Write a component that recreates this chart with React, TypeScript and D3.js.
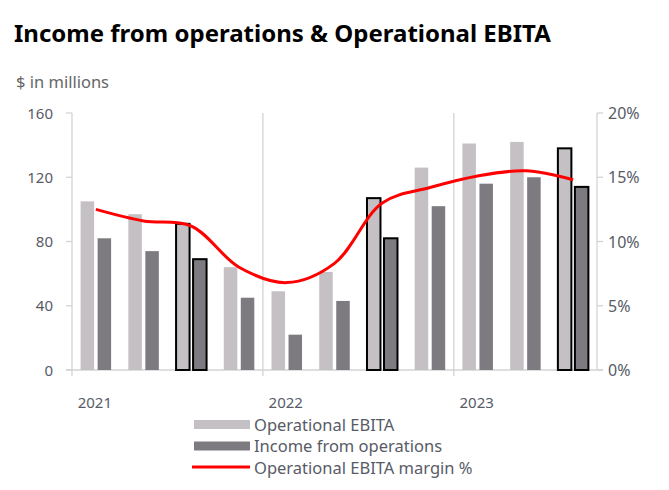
import { useEffect, useRef } from 'react';
import * as d3 from 'd3';

const quarters = ['Q1 21', 'Q2 21', 'Q3 21', 'Q4 21', 'Q1 22', 'Q2 22', 'Q3 22', 'Q4 22', 'Q1 23', 'Q2 23', 'Q3 23'];
const opEbita = [105, 97, 91, 64, 49, 61, 107, 126, 141, 142, 138];
const incomeOps = [82, 74, 69, 45, 22, 43, 82, 102, 116, 120, 114];
const marginPct = [12.5, 11.6, 11.2, 8.0, 6.8, 8.3, 13.0, 14.2, 15.1, 15.5, 14.8];
const highlighted = [2, 6, 10];
const yearLabels = [
  { label: '2021', at: 0 },
  { label: '2022', at: 4 },
  { label: '2023', at: 8 },
];
const leftTicks = [0, 40, 80, 120, 160];
const rightTicks = [0, 5, 10, 15, 20];

const W = 669;
const H = 490;
const FONT = '"Noto Sans", "Open Sans", sans-serif';
const TEXT = '#575b66';
const AXIS = '#d2d4d4';
const LIGHT = '#c4c0c4';
const DARK = '#7e7b80';

export default function App() {
  const svgRef = useRef<SVGSVGElement>(null);

  useEffect(() => {
    document.body.style.margin = '0';
    if (!svgRef.current) return;
    const svg = d3.select(svgRef.current);
    svg.selectAll('*').remove();

    const left = 72;
    const right = 597;
    const top = 113;
    const bottom = 370;

    const x = d3.scaleBand<string>().domain(quarters).range([left, right]).padding(0);
    const y = d3.scaleLinear().domain([0, 160]).range([bottom, top]);
    const yR = d3.scaleLinear().domain([0, 20]).range([bottom, top]);
    const bw = 13.5;
    const gap = 3.5;

    // title
    svg.append('text')
      .attr('x', 14).attr('y', 42)
      .attr('font-family', FONT).attr('font-weight', 'bold').attr('font-size', 24)
      .attr('fill', '#000')
      .text('Income from operations & Operational EBITA');

    svg.append('text')
      .attr('x', 16).attr('y', 88)
      .attr('font-family', FONT).attr('font-size', 16.5)
      .attr('fill', '#666')
      .text('$ in millions');

    // year separators
    const seps = [4, 8].map(i => x(quarters[i])!);
    svg.selectAll('line.sep').data(seps).join('line')
      .attr('x1', d => d).attr('x2', d => d)
      .attr('y1', top).attr('y2', bottom + 6)
      .attr('stroke', AXIS).attr('stroke-width', 1.3);

    // axes lines
    svg.append('line').attr('x1', left).attr('x2', left).attr('y1', top).attr('y2', bottom + 6)
      .attr('stroke', AXIS).attr('stroke-width', 1.3);
    svg.append('line').attr('x1', right).attr('x2', right).attr('y1', top).attr('y2', bottom)
      .attr('stroke', AXIS).attr('stroke-width', 1.3);
    svg.append('line').attr('x1', left - 6).attr('x2', right + 6).attr('y1', bottom).attr('y2', bottom)
      .attr('stroke', AXIS).attr('stroke-width', 1.3);

    svg.selectAll('line.lt').data(leftTicks).join('line')
      .attr('x1', left - 6).attr('x2', left)
      .attr('y1', d => y(d)).attr('y2', d => y(d))
      .attr('stroke', AXIS).attr('stroke-width', 1.3);
    svg.selectAll('line.rt').data(rightTicks).join('line')
      .attr('x1', right).attr('x2', right + 6)
      .attr('y1', d => yR(d)).attr('y2', d => yR(d))
      .attr('stroke', AXIS).attr('stroke-width', 1.3);

    svg.selectAll('text.lt').data(leftTicks).join('text')
      .attr('x', 53).attr('y', d => y(d) + 5.5)
      .attr('text-anchor', 'end')
      .attr('font-family', FONT).attr('font-size', 15).attr('fill', TEXT)
      .text(d => d);
    svg.selectAll('text.rt').data(rightTicks).join('text')
      .attr('x', 608).attr('y', d => yR(d) + 6)
      .attr('font-family', FONT).attr('font-size', 16).attr('fill', TEXT)
      .text(d => `${d}%`);

    svg.selectAll('text.yr').data(yearLabels).join('text')
      .attr('x', d => x(quarters[d.at])! + x.bandwidth() / 2 - 1)
      .attr('y', 408)
      .attr('text-anchor', 'middle')
      .attr('font-family', FONT).attr('font-size', 15).attr('fill', TEXT)
      .text(d => d.label);

    // bars
    const off = (x.bandwidth() - (2 * bw + gap)) / 2;
    quarters.forEach((q, i) => {
      const hl = highlighted.includes(i);
      const x0 = x(q)! + off;
      svg.append('rect')
        .attr('x', x0).attr('y', y(opEbita[i]))
        .attr('width', bw).attr('height', bottom - y(opEbita[i]))
        .attr('fill', LIGHT)
        .attr('stroke', hl ? '#000' : 'none').attr('stroke-width', 2);
      svg.append('rect')
        .attr('x', x0 + bw + gap).attr('y', y(incomeOps[i]))
        .attr('width', bw).attr('height', bottom - y(incomeOps[i]))
        .attr('fill', DARK)
        .attr('stroke', hl ? '#000' : 'none').attr('stroke-width', 2);
    });

    // margin line
    const line = d3.line<number>()
      .x((_, i) => x(quarters[i])! + x.bandwidth() / 2)
      .y(d => yR(d))
      .curve(d3.curveCatmullRom.alpha(0.5));
    svg.append('path')
      .attr('d', line(marginPct))
      .attr('fill', 'none')
      .attr('stroke', '#ff0000')
      .attr('stroke-width', 3);

    // legend
    const lx = 194;
    const lw = 56;
    const legend = [
      { label: 'Operational EBITA', kind: 'light', cy: 425 },
      { label: 'Income from operations', kind: 'dark', cy: 446.5 },
      { label: 'Operational EBITA margin %', kind: 'line', cy: 468 },
    ];
    legend.forEach(l => {
      if (l.kind === 'line') {
        svg.append('line')
          .attr('x1', lx - 2).attr('x2', lx + lw).attr('y1', l.cy - 1).attr('y2', l.cy - 1)
          .attr('stroke', '#ff0000').attr('stroke-width', 3);
      } else {
        svg.append('rect')
          .attr('x', lx).attr('y', l.cy - 5).attr('width', lw).attr('height', 9)
          .attr('fill', l.kind === 'light' ? LIGHT : DARK);
      }
      svg.append('text')
        .attr('x', lx + lw + 4).attr('y', l.cy + 5.5)
        .attr('font-family', FONT).attr('font-size', 16.5).attr('fill', TEXT)
        .text(l.label);
    });
  }, []);

  return <svg ref={svgRef} width={W} height={H} style={{ display: 'block', background: '#fff' }} />;
}
